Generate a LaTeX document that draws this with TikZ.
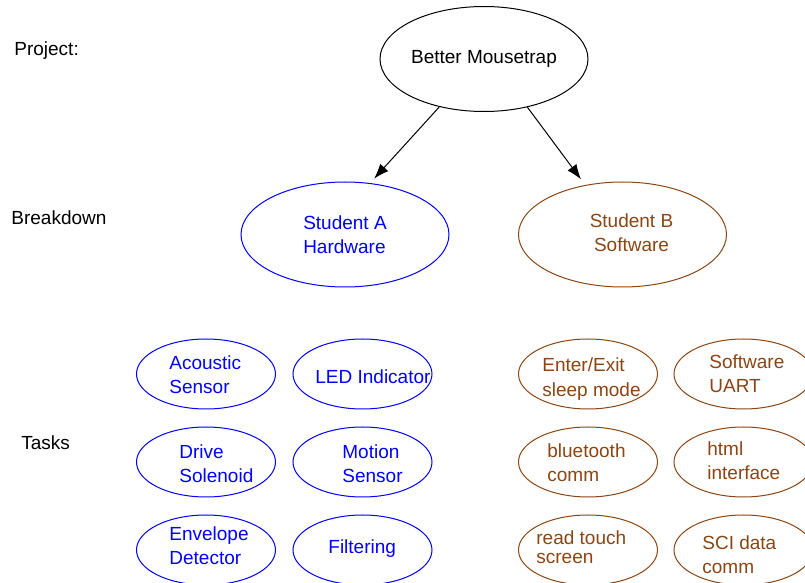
\documentclass[tikz,border=0pt]{standalone}
\usepackage{fontspec}
\setmainfont{Liberation Sans}
\usetikzlibrary{shapes.geometric,arrows.meta}
\definecolor{hwblue}{RGB}{0,0,255}
\definecolor{swbrown}{RGB}{139,69,19}
\tikzset{
	oval/.style={draw, ellipse, inner sep=0pt, line width=0.5pt},
	bigoval/.style={oval, minimum width=104pt, minimum height=52.5pt},
	taskoval/.style={oval, minimum width=69.5pt, minimum height=35pt},
	tasktext/.style={inner sep=0pt, align=left, anchor=west},
	rowlabel/.style={inner sep=0pt, anchor=base west}
}
\begin{document}
\begin{tikzpicture}[x=0.5pt, y=-0.5pt, font=\fontsize{9.5}{12.2}\selectfont]
	\path [use as bounding box] (0,0) rectangle (805,583);
	\clip (0,0) rectangle (805,583);

	% row labels
	\node [rowlabel] (lproject) at (14,55.5)  {Project:};
	\node [rowlabel] (lbreak)   at (11,224.5) {Breakdown};
	\node [rowlabel] (ltasks)   at (21,449.5) {Tasks};

	% project and the two students
	\node [bigoval] (project) at (484,59) {Better Mousetrap};
	\node [bigoval, draw=hwblue, text=hwblue, align=left] (studA) at (345,234.5) {Student A\\Hardware};
	\node [bigoval, draw=swbrown] (studB) at (622.5,234.5) {};
	\node [inner sep=0pt, align=center, text=swbrown] (studB-t) at (631.5,232.5) {Student B\\Software};

	\draw [line width=0.5pt, -{Latex[length=7.5pt, width=5.5pt]}, shorten >=3pt] (project.227) -- (studA.64);
	\draw [line width=0.5pt, -{Latex[length=7.5pt, width=5.5pt]}, shorten >=3.5pt] (project.312) -- (studB.127);

	% hardware tasks
	\node [taskoval, draw=hwblue] (acoustic) at (206,374)   {};
	\node [taskoval, draw=hwblue] (led)      at (362.5,374) {};
	\node [taskoval, draw=hwblue] (drive)    at (206,462)   {};
	\node [taskoval, draw=hwblue] (motion)   at (362.5,462) {};
	\node [taskoval, draw=hwblue] (envelope) at (206,550)   {};
	\node [taskoval, draw=hwblue] (filter)   at (362.5,550) {};

	\node [tasktext, text=hwblue] (acoustic-t) at (169,374.5) {Acoustic\\Sensor};
	\node [tasktext, text=hwblue] (led-t)      at (315,377)   {LED Indicator};
	\node [tasktext, text=hwblue] (drive-t)    at (179,463.5) {Drive\\Solenoid};
	\node [tasktext, text=hwblue] (motion-t)   at (342,463.5) {Motion\\Sensor};
	\node [tasktext, text=hwblue] (envelope-t) at (169,545.5) {Envelope\\Detector};
	\node [tasktext, text=hwblue] (filter-t)   at (328,549)   {Filtering};

	% software tasks
	\node [taskoval, draw=swbrown] (sleep) at (588,374)   {};
	\node [taskoval, draw=swbrown] (uart)  at (743.5,374) {};
	\node [taskoval, draw=swbrown] (bt)    at (588,462)   {};
	\node [taskoval, draw=swbrown] (html)  at (743.5,462) {};
	\node [taskoval, draw=swbrown] (touch) at (588,550)   {};
	\node [taskoval, draw=swbrown] (sci)   at (743.5,550) {};

	\node [tasktext, text=swbrown] (sleep-t) at (542,379)   {Enter/Exit\\sleep mode};
	\node [tasktext, text=swbrown] (uart-t)  at (709,374)   {Software\\UART};
	\node [tasktext, text=swbrown] (bt-t)    at (547,463)   {bluetooth\\comm};
	\node [tasktext, text=swbrown] (html-t)  at (707,461)   {html\\interface};
	\node [tasktext, text=swbrown] (touch-t) at (536,547.5) {read touch\\[-2.5pt]screen};
	\node [tasktext, text=swbrown] (sci-t)   at (702,554.5) {SCI data\\comm};
\end{tikzpicture}
\end{document}
